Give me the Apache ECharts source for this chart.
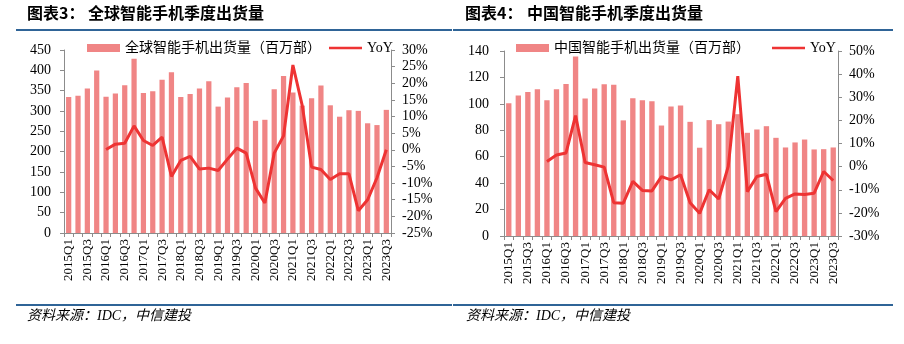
<!DOCTYPE html>
<html><head><meta charset="utf-8">
<script src="https://cdn.jsdelivr.net/npm/echarts@6/dist/echarts.min.js"></script>
<style>html,body{margin:0;padding:0;background:#fff}#c{width:904px;height:344px}</style>
</head><body><div id="c"></div>
<script>
const categories = ['2015Q1','2015Q2','2015Q3','2015Q4','2016Q1','2016Q2','2016Q3','2016Q4','2017Q1','2017Q2','2017Q3','2017Q4','2018Q1','2018Q2','2018Q3','2018Q4','2019Q1','2019Q2','2019Q3','2019Q4','2020Q1','2020Q2','2020Q3','2020Q4','2021Q1','2021Q2','2021Q3','2021Q4','2022Q1','2022Q2','2022Q3','2022Q4','2023Q1','2023Q2','2023Q3'];
const globalShip = [334.4,337.2,355.2,399.5,334.9,343.3,363.2,428.5,344.3,348.3,377,395,334.3,342,355.2,373,310.8,333.2,358.3,368.8,275.8,278.4,353.6,385.9,345.5,313.2,331.2,362.4,314,286,301.9,300.3,269.8,265.4,302.8];
const globalYoY = [null,null,null,null,0.1,1.7,2.0,7.2,2.8,1.3,3.8,-8.0,-3.2,-2.0,-5.8,-5.5,-6.2,-2.8,0.5,-1.0,-11.5,-16.0,-1.0,4.2,25.5,13.3,-5.2,-5.9,-8.9,-7.2,-7.2,-18.3,-15.0,-8.4,0.0];
const chinaShip = [100.5,106.3,109,111,102.8,111,115,135.8,104,111.6,114.9,114.4,87.5,104.3,102.8,102,83.6,98,98.7,86.4,66.8,87.7,84.6,86.6,92.2,78.1,80.6,83.1,74.3,67,70.8,73,65.5,65.7,67];
const chinaYoY = [null,null,null,null,2.2,5.0,5.9,22.1,1.8,0.8,-0.2,-15.6,-15.8,-6.4,-10.3,-10.5,-4.3,-5.7,-3.5,-15.6,-20.2,-10.0,-14.0,0.1,39.1,-10.8,-4.3,-3.3,-19.5,-13.7,-11.8,-12.1,-11.5,-2.1,-6.0];
const leftTicks = {min:0,max:450,interval:50};
const leftPct = {min:-25,max:30,interval:5};
const rightTicks = {min:0,max:140,interval:20};
const rightPct = {min:-30,max:50,interval:10};

const SERIF = '"Liberation Serif","Noto Sans CJK SC",serif';
const BAR = '#F08585';
const LINE = '#EE3333';
const AX = '#8c8c8c';
const LINE_ICON = 'path://M0,0h0.01v0.01h-0.01zM0,2.6h36v2.8h-36zM35.99,7.99h0.01v0.01h-0.01z';

function xAxis(gi){
  return {type:'category',gridIndex:gi,data:categories,boundaryGap:true,
    axisLine:{lineStyle:{color:AX}},
    axisTick:{show:true,alignWithLabel:false,interval:0,length:4,lineStyle:{color:AX}},
    axisLabel:{interval:1,rotate:90,fontFamily:SERIF,fontSize:13,color:'#000',margin:6}};
}
function yAxis(gi,t,pos,fmt,margin){
  return {type:'value',gridIndex:gi,position:pos,min:t.min,max:t.max,interval:t.interval,
    splitLine:{show:false},
    axisLine:{show:true,lineStyle:{color:AX}},
    axisTick:{show:true,length:4,lineStyle:{color:AX}},
    axisLabel:{fontFamily:SERIF,fontSize:14,color:'#000',margin:margin,formatter:fmt}};
}
const pct = v => v + '%';

const chart = echarts.init(document.getElementById('c'),null,{renderer:'canvas'});
chart.setOption({
  animation:false,
  grid:[
    {left:64,top:50,width:327,height:183},
    {left:504,top:51,width:334,height:185}
  ],
  xAxis:[xAxis(0),xAxis(1)],
  yAxis:[
    yAxis(0,leftTicks,'left',null,13),
    yAxis(0,leftPct,'right',pct,11),
    yAxis(1,rightTicks,'left',null,15),
    yAxis(1,rightPct,'right',pct,11)
  ],
  legend:[
    {left:82,top:36,itemWidth:33,itemHeight:8,itemGap:8,
     textStyle:{fontFamily:SERIF,fontSize:14,color:'#000'},
     data:[{name:'全球智能手机出货量（百万部）',icon:'rect'},{name:'YoY',icon:LINE_ICON}]},
    {left:511,top:36,itemWidth:33,itemHeight:8,itemGap:22,
     textStyle:{fontFamily:SERIF,fontSize:14,color:'#000'},
     data:[{name:'中国智能手机出货量（百万部）',icon:'rect'},{name:'YoY ',icon:LINE_ICON}]}
  ],
  series:[
    {name:'全球智能手机出货量（百万部）',type:'bar',xAxisIndex:0,yAxisIndex:0,data:globalShip,barWidth:'56%',itemStyle:{color:BAR}},
    {name:'YoY',type:'line',xAxisIndex:0,yAxisIndex:1,data:globalYoY,symbol:'none',lineStyle:{color:LINE,width:3},itemStyle:{color:LINE}},
    {name:'中国智能手机出货量（百万部）',type:'bar',xAxisIndex:1,yAxisIndex:2,data:chinaShip,barWidth:'56%',itemStyle:{color:BAR}},
    {name:'YoY ',type:'line',xAxisIndex:1,yAxisIndex:3,data:chinaYoY,symbol:'none',lineStyle:{color:LINE,width:3},itemStyle:{color:LINE}}
  ],
  graphic:[
    {type:'text',left:27,top:5,style:{text:'图表3：',font:'bold 16px "Noto Sans CJK SC"',fill:'#000'}},
    {type:'text',left:88,top:5,style:{text:'全球智能手机季度出货量',font:'bold 16px "Noto Sans CJK SC"',fill:'#000'}},
    {type:'text',left:465,top:5,style:{text:'图表4：',font:'bold 16px "Noto Sans CJK SC"',fill:'#000'}},
    {type:'text',left:527,top:5,style:{text:'中国智能手机季度出货量',font:'bold 16px "Noto Sans CJK SC"',fill:'#000'}},
    {type:'line',shape:{x1:16,y1:30,x2:452,y2:30},style:{stroke:'#2F6497',lineWidth:2}},
    {type:'line',shape:{x1:453,y1:30,x2:893,y2:30},style:{stroke:'#2F6497',lineWidth:2}},
    {type:'line',shape:{x1:16,y1:305,x2:452,y2:305},style:{stroke:'#2F6497',lineWidth:2}},
    {type:'line',shape:{x1:453,y1:305,x2:893,y2:305},style:{stroke:'#2F6497',lineWidth:2}},
    {type:'text',left:27,top:309,style:{text:'资料来源：IDC，中信建投',font:'italic 14px "Liberation Serif","Noto Sans CJK SC"',fill:'#000'}},
    {type:'text',left:466,top:309,style:{text:'资料来源：IDC，中信建投',font:'italic 14px "Liberation Serif","Noto Sans CJK SC"',fill:'#000'}}
  ]
});
</script></body></html>
